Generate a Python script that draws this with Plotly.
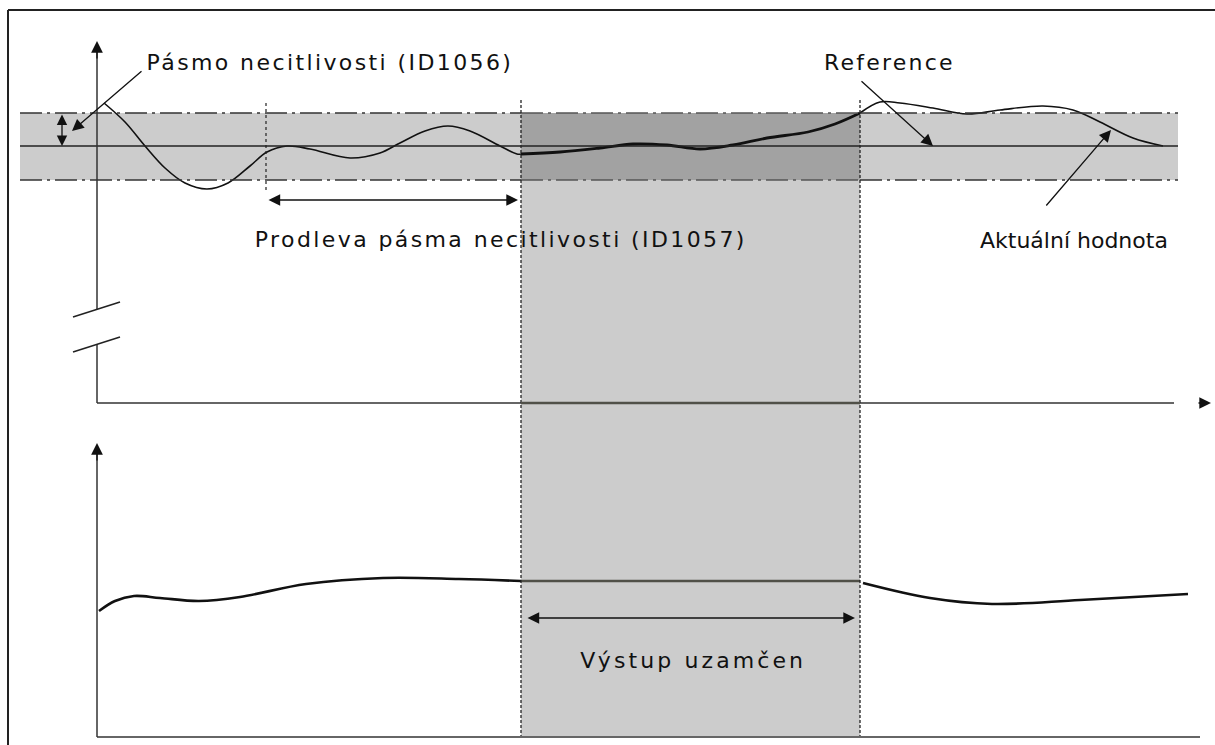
import plotly.graph_objects as go

# ---------------- data (diagram units: x = time, y = signal level, screen-like) ----------------
# Actual value (top plot) – three segments
act_x1 = [104, 125, 145, 165, 185, 207, 228, 250, 267, 287, 310, 350, 380, 400, 425, 448, 470, 500, 517, 521]
act_y1 = [103, 122, 146, 168, 183, 189, 183, 166, 152, 146, 149, 158, 153, 143, 131, 126, 131, 146, 154, 154]
act_x2 = [521, 560, 600, 633, 667, 700, 733, 767, 808, 835, 860]
act_y2 = [154, 152, 148, 144, 145, 149, 145, 138, 132, 124, 113]
act_x3 = [860, 880, 900, 933, 967, 1000, 1043, 1073, 1100, 1133, 1163]
act_y3 = [113, 102, 103, 108, 114, 110, 106, 110, 122, 138, 146]

# Output (bottom plot)
out_x1 = [99, 115, 134, 160, 199, 240, 306, 383, 459, 521]
out_y1 = [611, 601, 596, 598, 601, 597, 584, 578, 579, 581]
out_x2 = [863, 930, 992, 1080, 1188]
out_y2 = [583, 598, 604, 600, 594]

# key levels / times
ref_level = 146
band_top, band_bot = 113, 180
t_enter = 266      # enters dead band
t_lock = 521       # dead band delay elapsed -> output locked
t_unlock = 860     # leaves dead band
locked_top = 403
locked_out = 581

labels = {
    "band": "Pásmo necitlivosti (ID1056)",
    "ref": "Reference",
    "delay": "Prodleva pásma necitlivosti (ID1057)",
    "act": "Aktuální hodnota",
    "locked": "Výstup uzamčen",
}

FONT = "DejaVu Sans"
INK = "#111111"
LIGHT = "#cccccc"
DARK = "#a2a2a2"

fig = go.Figure()

shapes = []
# frame (left + top)
shapes.append(dict(type="line", x0=8, y0=10, x1=1215, y1=10, line=dict(color="#222", width=2)))
shapes.append(dict(type="line", x0=8, y0=10, x1=8, y1=745, line=dict(color="#222", width=2)))
# light dead band
shapes.append(dict(type="rect", x0=20, x1=1178, y0=band_top, y1=band_bot, fillcolor=LIGHT, line=dict(width=0), layer="below"))
# locked column
shapes.append(dict(type="rect", x0=t_lock, x1=t_unlock, y0=band_bot, y1=736, fillcolor=LIGHT, line=dict(width=0), layer="below"))
shapes.append(dict(type="rect", x0=t_lock, x1=t_unlock, y0=band_top, y1=band_bot, fillcolor=DARK, line=dict(width=0), layer="below"))
# band edges dash-dot
for xa, xb, col in ((20, t_lock, "#333"), (t_lock, t_unlock, "#555"), (t_unlock, 1178, "#333")):
    for yy in (band_top, band_bot):
        shapes.append(dict(type="line", x0=xa, x1=xb, y0=yy, y1=yy,
                           line=dict(color=col, width=1.3, dash="22px,5px,3px,5px")))
# reference line
shapes.append(dict(type="line", x0=20, x1=1178, y0=ref_level, y1=ref_level, line=dict(color="#222", width=1.5)))
# top axes
shapes.append(dict(type="line", x0=97, x1=97, y0=52, y1=309, line=dict(color="#333", width=1.5)))
shapes.append(dict(type="line", x0=97, x1=97, y0=344, y1=403, line=dict(color="#333", width=1.5)))
shapes.append(dict(type="line", x0=97, x1=1174, y0=403, y1=403, line=dict(color="#333", width=1.5)))
# axis break marks
shapes.append(dict(type="line", x0=73, y0=317, x1=120, y1=302, line=dict(color="#222", width=1.5)))
shapes.append(dict(type="line", x0=73, y0=352, x1=120, y1=337, line=dict(color="#222", width=1.5)))
# bottom axes
shapes.append(dict(type="line", x0=97, x1=97, y0=452, y1=737, line=dict(color="#333", width=1.5)))
shapes.append(dict(type="line", x0=97, x1=1200, y0=737, y1=737, line=dict(color="#333", width=1.5)))
# vertical dashed markers
shapes.append(dict(type="line", x0=t_enter, x1=t_enter, y0=103, y1=190, line=dict(color="#222", width=1.2, dash="3px,3px")))
for tx in (t_lock, t_unlock):
    shapes.append(dict(type="line", x0=tx, x1=tx, y0=100, y1=736, line=dict(color="#222", width=1.3, dash="3px,2px")))
# locked horizontal segment on top axis
shapes.append(dict(type="line", x0=t_lock, x1=t_unlock, y0=locked_top, y1=locked_top, line=dict(color="#505048", width=2.5)))

fig.add_trace(go.Scatter(x=out_x1, y=out_y1, mode="lines", line=dict(color=INK, width=2.6, shape="spline"), hoverinfo="skip"))
fig.add_trace(go.Scatter(x=[t_lock, t_unlock], y=[locked_out, locked_out], mode="lines", line=dict(color="#505048", width=2.6), hoverinfo="skip"))
fig.add_trace(go.Scatter(x=out_x2, y=out_y2, mode="lines", line=dict(color=INK, width=2.6, shape="spline"), hoverinfo="skip"))
fig.add_trace(go.Scatter(x=act_x1, y=act_y1, mode="lines", line=dict(color=INK, width=1.6, shape="spline"), hoverinfo="skip"))
fig.add_trace(go.Scatter(x=act_x2, y=act_y2, mode="lines", line=dict(color=INK, width=2.8, shape="spline"), hoverinfo="skip"))
fig.add_trace(go.Scatter(x=act_x3, y=act_y3, mode="lines", line=dict(color=INK, width=1.6, shape="spline"), hoverinfo="skip"))

ann = []
def arrow(x, y, ax, ay, head=2, side="end", size=1.8, width=1.3):
    ann.append(dict(x=x, y=y, ax=ax, ay=ay, xref="x", yref="y", axref="x", ayref="y", text="",
                    showarrow=True, arrowhead=head, startarrowhead=head, arrowside=side,
                    arrowsize=size, startarrowsize=size, arrowwidth=width, arrowcolor=INK))

def label(x, y, txt, anchor="center"):
    ann.append(dict(x=x, y=y, xref="x", yref="y", text=txt, showarrow=False, xanchor=anchor, yanchor="middle",
                    font=dict(family=FONT, size=22, color=INK)))

# axis arrows
arrow(97, 41, 97, 60)
arrow(97, 443, 97, 462)
arrow(1211, 403, 1197, 403)
# band width double arrow
arrow(62, 146, 62, 113, side="end+start", size=1.6)
# pointer arrows
arrow(72, 131, 143, 70)
arrow(933, 146, 860, 80)
arrow(1111, 130, 1045, 207)
# delay double arrow
arrow(518, 200, 267, 200, side="end+start")
# locked double arrow
arrow(855, 618, 526, 618, side="end+start")

label(330, 62, labels["band"])
label(889, 62, labels["ref"])
label(501, 239, labels["delay"])
label(1170, 240, labels["act"], anchor="right")
label(693, 660, labels["locked"])

fig.update_layout(
    width=1215, height=745, margin=dict(l=0, r=0, t=0, b=0),
    paper_bgcolor="white", plot_bgcolor="white", showlegend=False,
    shapes=shapes, annotations=ann,
    xaxis=dict(range=[0, 1215], visible=False, fixedrange=True),
    yaxis=dict(range=[745, 0], visible=False, fixedrange=True),
)

# the reference typesetting uses wide letter spacing on most labels
post = """
document.body.style.margin='0';
function spaceText(){
  var spacing = {'%s':'2.4px','%s':'2.2px','%s':'2.4px','%s':'3.1px'};
  document.querySelectorAll('text.annotation-text').forEach(function(t){
    var s = spacing[t.textContent];
    if(s){ t.style.letterSpacing = s; }
  });
}
spaceText();
setTimeout(spaceText, 0);
var gd = document.getElementById('{plot_id}');
if(gd && gd.on){ gd.on('plotly_afterplot', spaceText); }
""" % (labels["band"], labels["ref"], labels["delay"], labels["locked"])

fig.write_html("out.html", config={"displayModeBar": False}, post_script=post)
